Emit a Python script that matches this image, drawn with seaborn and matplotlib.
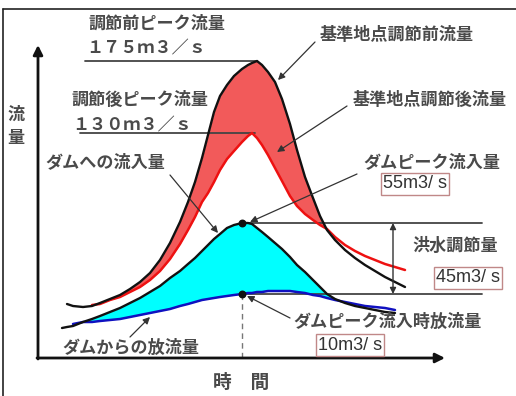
import matplotlib
matplotlib.use("Agg")
import matplotlib.pyplot as plt
from matplotlib.lines import Line2D
import seaborn as sns
import pandas as pd
import numpy as np

# schematic hydrograph, values (time / flow in drawing units)
time = [24, 29, 35, 45, 54, 62, 72, 82, 92, 102, 112, 122, 132, 142, 150, 157, 164, 170, 176, 182,
        189, 196, 204, 210, 214, 219, 224, 230, 237, 244, 252, 259, 267, 275, 282, 289, 297, 307, 317, 327,
        337, 347, 357, 367]
before = [np.nan, 54, 52, 51, 52, 55, 59, 63, 69, 76, 85, 98, 115, 136, 156, 176, 200, 223, 246, 262,
          273, 282, 289, 293, 295, 297, 293, 286, 276, 259, 234, 208, 181, 160, 142, 128, 118, 108, 100, 93,
          87, 81, 76, 71]
after = [np.nan, np.nan, np.nan, np.nan, 53, 54, 58, 61, 66, 71, 78, 87, 99, 114, 128, 141, 156, 165, 176, 188,
         199, 207, 216, 222, 225, 220, 213, 203, 190, 177, 162, 152, 144, 138, 133, 129, 121, 113, 107, 102,
         98, 94, 91, 88]
inflow = [30, 31, 32, 36, 39, 42, 46, 50, 55, 60, 66, 72, 80, 87, 94, 100, 107, 113, 119, 124,
          130, 133, 135, 135, 134, 130, 126, 121, 115, 109, 101, 93, 86, 78, 71, 64, 59, 55, 52, 50,
          48, 46, 45, np.nan]
outflow = [np.nan, np.nan, 34, 36, 36, 37, 38, 39, 41, 43, 45, 47, 49, 52, 54, 56, 58, 59, 60, 61,
           62, 63, 64, 65, 65, 66, 66, 67, 67, 67, 67, 66, 65, 63, 62, 60, 58, 56, 54, 52,
           51, 50, 48, np.nan]

peak_before_label = "１７５ｍ３／ｓ"
peak_after_label = "１３０ｍ３／ｓ"
dam_peak_label = "55m3/ s"
dam_release_label = "10m3/ s"
control_label = "45m3/ s"

df = pd.DataFrame({"time": time, "before": before, "after": after,
                   "inflow": inflow, "outflow": outflow})

sns.set_style("white")
plt.rcParams["font.family"] = ["Noto Sans CJK JP", "DejaVu Sans"]

fig = plt.figure(figsize=(5.16, 3.96), dpi=100)
ax = fig.add_axes([0, 0, 1, 1])

# frame of the original figure (top and left edges)
fig.add_artist(Line2D([3 / 516, 1], [1 - 9 / 396] * 2, color="#222", lw=1.2))
fig.add_artist(Line2D([3 / 516] * 2, [0, 1 - 9 / 396], color="#222", lw=1.2))

t = df["time"].to_numpy(float)
b = df["before"].to_numpy(float)
a = df["after"].to_numpy(float)
qi = df["inflow"].to_numpy(float)
qo = df["outflow"].to_numpy(float)

m = ~np.isnan(a) & ~np.isnan(b)
ax.fill_between(t[m], a[m], b[m], where=b[m] > a[m], interpolate=True,
                color="#f25a5a", lw=0, zorder=1)
m2 = ~np.isnan(qi) & ~np.isnan(qo)
ax.fill_between(t[m2], qo[m2], qi[m2], where=qi[m2] > qo[m2], interpolate=True,
                color="#00ffff", lw=0, zorder=1)

sns.lineplot(data=df, x="time", y="after", color="#ee1111", lw=1.8, estimator=None, ax=ax, zorder=3)
sns.lineplot(data=df, x="time", y="before", color="#111111", lw=1.7, estimator=None, ax=ax, zorder=4)
sns.lineplot(data=df, x="time", y="outflow", color="#1010c0", lw=1.8, estimator=None, ax=ax, zorder=3)
sns.lineplot(data=df, x="time", y="inflow", color="#111111", lw=1.7, estimator=None, ax=ax, zorder=4)
ax.set_xlim(-38, 478)
ax.set_ylim(-38, 358)
ax.set_axis_off()

# axes arrows
arrow_axis = dict(arrowstyle="-|>", color="#111", lw=2, mutation_scale=14, shrinkA=0, shrinkB=0)
ax.annotate("", xy=(0, 313), xytext=(0, -1), arrowprops=arrow_axis, zorder=5)
ax.annotate("", xy=(407, 0), xytext=(-1, 0), arrowprops=arrow_axis, zorder=5)

gray = "#444444"
ib = np.nanargmax(b)
ia = np.nanargmax(a)
ii = np.nanargmax(qi)
tp, q_in_peak, q_out_peak = t[ii], qi[ii], qo[ii]

ax.plot([47, t[ib]], [b[ib], b[ib]], color=gray, lw=1.3, zorder=2)
ax.plot([42, t[ia] + 3], [a[ia], a[ia]], color=gray, lw=1.3, zorder=2)
ax.plot([tp, 444], [q_in_peak, q_in_peak], color=gray, lw=1.3, zorder=2)
ax.plot([tp, 444], [q_out_peak, q_out_peak], color=gray, lw=1.3, zorder=2)
ax.plot([tp, tp], [q_out_peak, 0], color="#777", lw=1, ls=(0, (4, 3)), zorder=2)
ax.scatter([tp, tp], [q_in_peak, q_out_peak], s=22, color="#111", zorder=6)
ax.annotate("", xy=(355, q_in_peak), xytext=(355, q_out_peak),
            arrowprops=dict(arrowstyle="<|-|>", color="#333", lw=1, mutation_scale=9,
                            shrinkA=0, shrinkB=0), zorder=5)

txt = dict(fontsize=12.3, color="#4a4a4a", fontweight="bold", ha="center", va="center", zorder=7)
ax.text(119, 334, "調節前ピーク流量", **txt)
ax.text(108, 310, peak_before_label, **txt)
ax.text(102, 258, "調節後ピーク流量", **txt)
ax.text(94, 233, peak_after_label, **txt)
ax.text(67, 196, "ダムへの流入量", **txt)
ax.text(359, 323, "基準地点調節前流量", **txt)
ax.text(392, 258, "基準地点調節後流量", **txt)
ax.text(394, 196, "ダムピーク流入量", **txt)
ax.text(417, 112, "洪水調節量", **txt)
ax.text(350, 36, "ダムピーク流入時放流量", **txt)
ax.text(93, 10, "ダムからの放流量", **txt)
ax.text(-22, 243, "流", **txt)
ax.text(-22, 220, "量", **txt)
ax.text(203, -24, "時　間", **dict(txt, fontsize=13.5))

box = dict(boxstyle="square,pad=0.12", fc="white", ec="#c08888", lw=1)
num = dict(fontsize=13, color="#333333", ha="center", va="center", family=["Liberation Sans"],
           bbox=box, zorder=7)
ax.text(377, 174, dam_peak_label, **num)
ax.text(430, 80, control_label, **num)
ax.text(312, 13, dam_release_label, **num)

# leader arrows
lead = dict(arrowstyle="-|>", color="#333", lw=0.9, mutation_scale=10, shrinkA=0, shrinkB=0)
ax.annotate("", xy=(240, 278), xytext=(277, 316), arrowprops=lead, zorder=7)
ax.annotate("", xy=(239, 206), xytext=(309, 252), arrowprops=lead, zorder=7)
ax.annotate("", xy=(tp + 8, q_in_peak + 1), xytext=(319, 184), arrowprops=lead, zorder=7)
ax.annotate("", xy=(180, 125), xytext=(132, 183), arrowprops=lead, zorder=7)
ax.annotate("", xy=(tp + 5, q_out_peak - 2), xytext=(252, 40), arrowprops=lead, zorder=7)
ax.annotate("", xy=(112, 41), xytext=(92, 21), arrowprops=lead, zorder=7)

fig.savefig("out.png", dpi=100, facecolor="white")
